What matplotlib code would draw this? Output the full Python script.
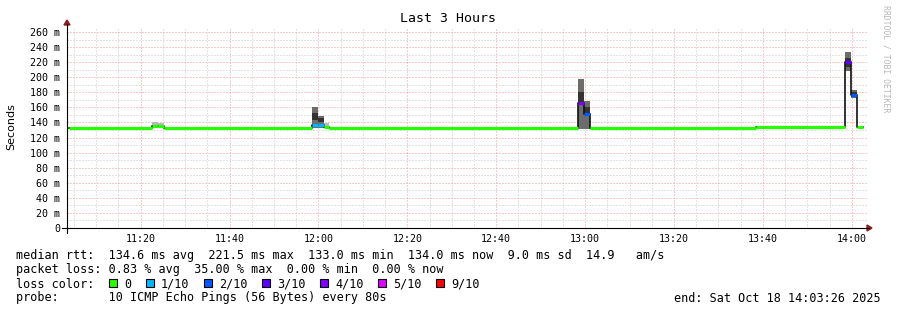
import matplotlib
matplotlib.use('Agg')
import matplotlib.pyplot as plt
import numpy as np
from matplotlib.lines import Line2D
from matplotlib.patches import Polygon, Rectangle

W, H = 897, 310

# time axis in minutes since midnight (11:03:26 .. 14:03:26)
t_begin, t_end = 663.433, 843.433

# one entry per 80 s probe interval where something changes
step_start = [663.82, 682.49, 683.82, 685.15, 718.49, 719.82, 721.15, 722.49,
              778.49, 779.82, 781.15, 818.49, 838.49, 839.82, 841.15]
data_end = 842.49
median_ms = [133.2, 135.8, 135.8, 133.2, 137.0, 136.5, 133.5, 133.2,
             166.0, 151.0, 133.2, 134.6, 220.5, 176.5, 134.6]
loss = [0, 0, 0, 0, 1, 1, 0, 0, 4, 2, 0, 0, 3, 2, 0]
smoke_lo = [132.6, 134.0, 134.0, 132.6, 133.0, 133.0, 133.0, 132.6,
            131.0, 131.0, 132.6, 134.0, 208.0, 172.0, 134.0]
smoke_hi = [134.0, 140.5, 139.0, 134.0, 161.0, 149.0, 139.0, 134.0,
            198.0, 169.0, 134.0, 135.5, 234.0, 183.0, 135.5]
core_lo = [np.nan, np.nan, np.nan, np.nan, 143.0, 140.0, np.nan, np.nan,
           167.0, 152.0, np.nan, np.nan, 213.0, 174.0, np.nan]
core_hi = [np.nan, np.nan, np.nan, np.nan, 153.0, 146.0, np.nan, np.nan,
           180.0, 160.0, np.nan, np.nan, 226.0, 180.0, np.nan]

loss_levels = [0, 1, 2, 3, 4, 5, 9]
loss_labels = ['0', '1/10', '2/10', '3/10', '4/10', '5/10', '9/10']
loss_colors = ['#26ff00', '#00b8ff', '#0059ff', '#5e00ff', '#7e00ff',
               '#dd00ff', '#ff0000']

rtt_stats = [134.6, 221.5, 133.0, 134.0, 9.0]
am_s = 14.9
loss_stats = [0.83, 35.00, 0.00, 0.00]
probe_text = '10 ICMP Echo Pings (56 Bytes) every 80s'
end_text = 'end: Sat Oct 18 14:03:26 2025'

MONO = 'DejaVu Sans Mono'


def fx(x):
    return x / W


def fy(y):
    return 1 - y / H


fig = plt.figure(figsize=(W / 100, H / 100), dpi=100, facecolor='white')
ax = fig.add_axes([fx(67), fy(228), 800 / W, 201 / H])
ax.set_xlim(t_begin, t_end)
ax.set_ylim(0, 266.6)
for s in ax.spines.values():
    s.set_visible(False)

starts = np.array(step_start)
ends = np.append(starts[1:], data_end)
widths = ends - starts
med = np.array(median_ms)
lo = np.array(smoke_lo)
hi = np.array(smoke_hi)
lossed = np.array(loss) > 0

# smoke
ax.bar(starts, hi - lo, width=widths, bottom=lo, align='edge',
       color=np.where(lossed, '#6c6c6c', '#b8b8b8'), linewidth=0, zorder=1)
clo = np.array(core_lo)
chi = np.array(core_hi)
ok = ~np.isnan(clo)
ax.bar(starts[ok], chi[ok] - clo[ok], width=widths[ok], bottom=clo[ok],
       align='edge', color='#333333', linewidth=0, zorder=1.1)

# median: dark step line, then loss-coloured segments
ax.step(np.append(starts, data_end), np.append(med, med[-1]), where='post',
        color='#111111', lw=1.2, zorder=3)
seg_colors = [loss_colors[loss_levels.index(l)] for l in loss]
ax.hlines(med, starts, ends, colors=seg_colors, lw=2.3, zorder=4)

# grid
ax.set_xticks(np.arange(680, 841, 20))
ax.set_xticks(np.arange(665, 845, 5), minor=True)
ax.set_yticks(np.arange(0, 261, 20))
ax.set_yticks(np.arange(10, 266, 10), minor=True)
ax.set_xticklabels(['%d:%02d' % (m // 60, m % 60)
                    for m in np.arange(680, 841, 20)])
ax.set_yticklabels(['%d m' % v if v else '0' for v in np.arange(0, 261, 20)])
ax.grid(which='minor', color='#c8c8c8', linestyle=(0, (1, 2)), lw=0.72)
ax.grid(which='major', color='#f09898', linestyle=(0, (1, 2)), lw=0.72)
ax.set_axisbelow(True)
ax.tick_params(which='both', length=0)
ax.tick_params(axis='x', pad=4)
ax.tick_params(axis='y', pad=5)
for lab in ax.get_xticklabels() + ax.get_yticklabels():
    lab.set_family(MONO)
    lab.set_fontsize(7.2)

# axes with arrows
fig.add_artist(Line2D([fx(62), fx(869)], [fy(228), fy(228)], color='black',
                      lw=0.8, transform=fig.transFigure))
fig.add_artist(Line2D([fx(67), fx(67)], [fy(233), fy(24)], color='black',
                      lw=0.8, transform=fig.transFigure))
fig.add_artist(Polygon([[fx(867), fy(225)], [fx(867), fy(231)],
                        [fx(872), fy(228)]], closed=True, color='#8b1e1e',
                       transform=fig.transFigure))
fig.add_artist(Polygon([[fx(64), fy(25)], [fx(70), fy(25)],
                        [fx(67), fy(20)]], closed=True, color='#8b1e1e',
                       transform=fig.transFigure))

fig.text(fx(448), fy(19), 'Last 3 Hours', ha='center', va='center',
         family=MONO, size=9.5)
fig.text(fx(11), fy(127), 'Seconds', rotation=90, ha='center', va='center',
         family='DejaVu Sans', size=8)
fig.text(fx(886), fy(5), 'RRDTOOL / TOBI OETIKER', rotation=270,
         ha='center', va='top', family=MONO, size=5.9, color='#b8b8b8')

# legend
row1 = ('median rtt:  %.1f ms avg  %.1f ms max  %.1f ms min  %.1f ms now'
        '  %.1f ms sd  %.1f   am/s' % (*rtt_stats, am_s))
row2 = ('packet loss: %.2f %% avg  %.2f %% max  %.2f %% min  %.2f %% now'
        % tuple(loss_stats))
row4 = 'probe:       ' + probe_text
txt = dict(family=MONO, size=8.5, va='baseline', ha='left')
fig.text(fx(16), fy(259.5), row1, **txt)
fig.text(fx(16), fy(273.5), row2, **txt)
fig.text(fx(16), fy(287.5), 'loss color:', **txt)
fig.text(fx(16), fy(301.5), row4, **txt)
fig.text(fx(881), fy(301.5), end_text, family=MONO, size=8.5,
         va='baseline', ha='right')

x0 = 109
for lab, col in zip(loss_labels, loss_colors):
    fig.add_artist(Rectangle((fx(x0), fy(287)), 8 / W, 8 / H,
                             facecolor=col, edgecolor='black', lw=0.8,
                             transform=fig.transFigure))
    fig.text(fx(x0 + 15), fy(287.5), lab, **txt)
    x0 = x0 + 15 + 7 * len(lab) + 15

fig.savefig('out.png', dpi=100)
